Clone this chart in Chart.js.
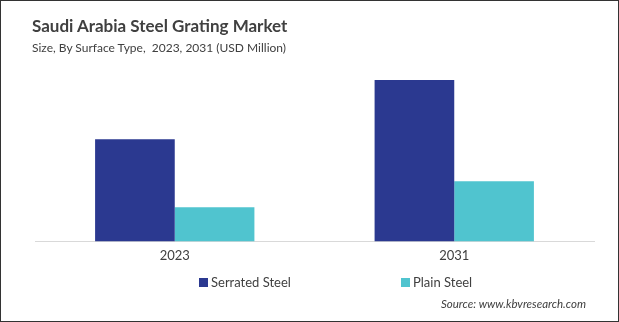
<!DOCTYPE html>
<html>
<head>
<meta charset="utf-8">
<script src="https://cdn.jsdelivr.net/npm/chart.js@4"></script>
<style>
  html, body { margin: 0; padding: 0; background: #fff; }
  #wrap { position: relative; width: 619px; height: 322px; box-sizing: border-box; border: 1px solid #333; overflow: hidden; font-family: Lato, "Open Sans", sans-serif; color: #404040; }
  #chart { position: absolute; left: 0; top: 0; }
  .title { position: absolute; left: 31px; top: 14px; font-size: 17px; font-weight: bold; white-space: nowrap; }
  .sub { position: absolute; left: 31px; top: 39px; font-size: 12px; white-space: nowrap; }
  .legend { position: absolute; top: 273px; font-size: 13px; white-space: nowrap; }
  .legend span { display: inline-block; width: 9px; height: 9px; margin-right: 3px; }
  .source { position: absolute; left: 440px; top: 296px; font-size: 11.5px; font-style: italic; white-space: nowrap; }
</style>
</head>
<body>
<div id="wrap">
  <canvas id="chart" width="617" height="320"></canvas>
  <div class="title">Saudi Arabia Steel Grating Market</div>
  <div class="sub">Size, By Surface Type, &nbsp;2023, 2031 (USD Million)</div>
  <div class="legend" id="lg1" style="left:198px"></div>
  <div class="legend" id="lg2" style="left:400px"></div>
  <div class="source">Source: www.kbvresearch.com</div>
</div>
<script>
const years = ['2023', '2031'];
const seriesNames = ['Serrated Steel', 'Plain Steel'];
const serrated = [51.0, 80.5];
const plain = [17.0, 30.0];
const colors = ['#2b3990', '#50c4cf'];

document.getElementById('lg1').innerHTML = `<span style="background:${colors[0]}"></span>${seriesNames[0]}`;
document.getElementById('lg2').innerHTML = `<span style="background:${colors[1]}"></span>${seriesNames[1]}`;

const ctx = document.getElementById('chart').getContext('2d');
new Chart(ctx, {
  type: 'bar',
  data: {
    labels: years,
    datasets: [
      { label: seriesNames[0], data: serrated, backgroundColor: colors[0] },
      { label: seriesNames[1], data: plain, backgroundColor: colors[1] }
    ]
  },
  options: {
    responsive: false,
    animation: false,
    layout: { padding: { left: 34, right: 24, top: 69, bottom: 50 } },
    plugins: { legend: { display: false }, tooltip: { enabled: false } },
    datasets: { bar: { categoryPercentage: 0.57, barPercentage: 1 } },
    scales: {
      y: { display: false, min: 0, max: 85.5 },
      x: {
        grid: { display: false, drawTicks: false },
        border: { color: '#d9d9d9', width: 1 },
        ticks: { color: '#404040', font: { family: 'Lato', size: 13 }, padding: 7 }
      }
    }
  }
});
</script>
</body>
</html>
